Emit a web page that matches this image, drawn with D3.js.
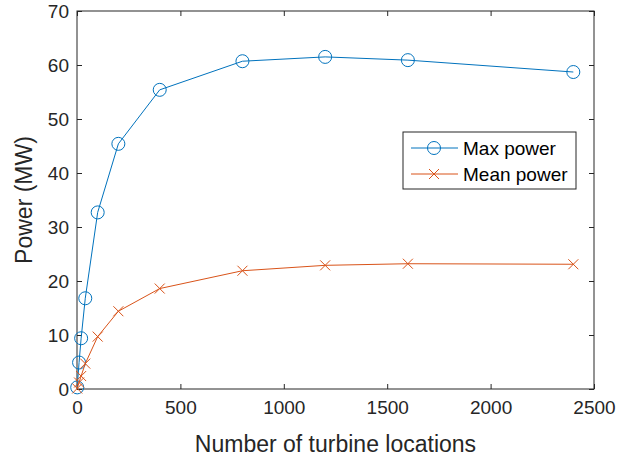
<!DOCTYPE html>
<html>
<head>
<meta charset="utf-8">
<script src="https://cdn.jsdelivr.net/npm/d3@7"></script>
<style>
  body { margin: 0; background: #fff; }
  text { font-family: "Liberation Sans", Arial, Helvetica, sans-serif; }
</style>
</head>
<body>
<div id="chart-area"></div>
<script>
// DATA
const locations = [1, 10, 20, 40, 100, 200, 400, 800, 1200, 1600, 2400]
const maxPower = [0.3, 4.9, 9.4, 16.8, 32.7, 45.4, 55.4, 60.7, 61.5, 60.9, 58.7]
const meanPower = [0.1, 1.2, 2.4, 4.7, 9.7, 14.4, 18.6, 21.9, 22.9, 23.2, 23.1]
const xTicks = [0, 500, 1000, 1500, 2000, 2500]
const yTicks = [0, 10, 20, 30, 40, 50, 60, 70]
const seriesNames = ['Max power', 'Mean power']

// SET CHART MARGINS
const margin = { top: 11, right: 40, bottom: 72, left: 77 }
const width = 634 - margin.left - margin.right
const height = 461 - margin.top - margin.bottom

const axisColor = '#262626'
const blue = '#0072BD'
const orange = '#D95319'

const svg = d3.select('#chart-area')
              .append('svg')
              .attr('width', 634)
              .attr('height', 461)

const g = svg.append('g')
             .attr('transform', 'translate(' + margin.left + ',' + margin.top + ')')

// SCALES
const x = d3.scaleLinear().domain([0, 2500]).range([0, width])
const y = d3.scaleLinear().domain([0, 70]).range([height, 0])

// AXES (ticks inside, mirrored on top / right)
const tickLen = 5
const fmt = d3.format('d')
const styleAxis = sel => {
    sel.select('.domain').remove()
    sel.selectAll('line').attr('stroke', axisColor)
    sel.selectAll('text').attr('fill', axisColor).attr('font-size', '19px')
}

g.append('g')
 .attr('transform', 'translate(0,' + height + ')')
 .call(d3.axisBottom(x).tickValues(xTicks).tickFormat(fmt).tickSizeInner(-tickLen).tickSizeOuter(0).tickPadding(12))
 .call(styleAxis)

g.append('g')
 .call(d3.axisTop(x).tickValues(xTicks).tickSizeInner(-tickLen).tickSizeOuter(0).tickFormat(''))
 .call(styleAxis)

g.append('g')
 .call(d3.axisLeft(y).tickValues(yTicks).tickFormat(fmt).tickSizeInner(-tickLen).tickSizeOuter(0).tickPadding(8))
 .call(styleAxis)

g.append('g')
 .attr('transform', 'translate(' + width + ',0)')
 .call(d3.axisRight(y).tickValues(yTicks).tickSizeInner(-tickLen).tickSizeOuter(0).tickFormat(''))
 .call(styleAxis)

// BOX
g.append('rect')
 .attr('width', width)
 .attr('height', height)
 .attr('fill', 'none')
 .attr('stroke', axisColor)
 .attr('stroke-width', 1)

// AXIS LABELS
svg.append('text')
   .attr('x', margin.left + width / 2)
   .attr('y', 452)
   .attr('text-anchor', 'middle')
   .attr('font-size', '23px')
   .attr('fill', axisColor)
   .text('Number of turbine locations')

svg.append('text')
   .attr('transform', 'translate(32,' + (margin.top + height / 2) + ') rotate(-90)')
   .attr('text-anchor', 'middle')
   .attr('font-size', '23px')
   .attr('fill', axisColor)
   .text('Power (MW)')

// SERIES
const line = d3.line().x(d => x(d[0])).y(d => y(d[1]))
const maxData = locations.map((d, i) => [d, maxPower[i]])
const meanData = locations.map((d, i) => [d, meanPower[i]])

const crossPath = s => 'M' + (-s) + ',' + (-s) + 'L' + s + ',' + s + 'M' + (-s) + ',' + s + 'L' + s + ',' + (-s)

g.append('path')
 .datum(maxData)
 .attr('d', line)
 .attr('fill', 'none')
 .attr('stroke', blue)
 .attr('stroke-width', 1)

g.selectAll('.max-marker')
 .data(maxData)
 .enter()
 .append('circle')
 .attr('class', 'max-marker')
 .attr('cx', d => x(d[0]))
 .attr('cy', d => y(d[1]))
 .attr('r', 6.5)
 .attr('fill', 'none')
 .attr('stroke', blue)
 .attr('stroke-width', 1)

g.append('path')
 .datum(meanData)
 .attr('d', line)
 .attr('fill', 'none')
 .attr('stroke', orange)
 .attr('stroke-width', 1)

g.selectAll('.mean-marker')
 .data(meanData)
 .enter()
 .append('path')
 .attr('class', 'mean-marker')
 .attr('transform', d => 'translate(' + x(d[0]) + ',' + y(d[1]) + ')')
 .attr('d', crossPath(5))
 .attr('fill', 'none')
 .attr('stroke', orange)
 .attr('stroke-width', 1)

// LEGEND
const legend = svg.append('g').attr('transform', 'translate(403,132)')
legend.append('rect')
      .attr('width', 173)
      .attr('height', 57)
      .attr('fill', '#fff')
      .attr('stroke', axisColor)
      .attr('stroke-width', 1)

const colors = [blue, orange]
seriesNames.forEach((name, i) => {
    const cy = 16 + i * 26
    const row = legend.append('g').attr('transform', 'translate(0,' + cy + ')')
    row.append('line')
       .attr('x1', 8).attr('x2', 55)
       .attr('stroke', colors[i]).attr('stroke-width', 1)
    if (i === 0) {
        row.append('circle').attr('cx', 31).attr('r', 6.5)
           .attr('fill', 'none').attr('stroke', colors[i])
    } else {
        row.append('path').attr('transform', 'translate(31,0)')
           .attr('d', crossPath(5)).attr('fill', 'none').attr('stroke', colors[i])
    }
    row.append('text')
       .attr('x', 60)
       .attr('y', 7)
       .attr('font-size', '19px')
       .attr('fill', '#000')
       .text(name)
})
</script>
</body>
</html>
